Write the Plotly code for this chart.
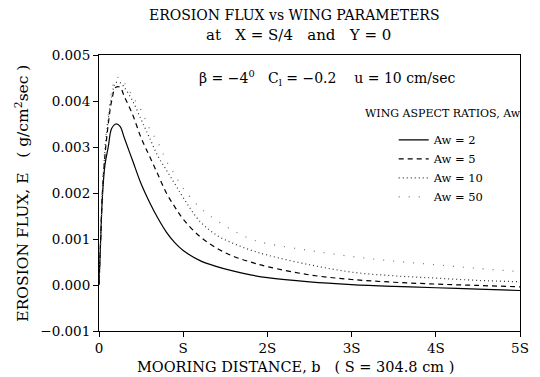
import plotly.graph_objects as go

# Mooring distance in units of S (S = 304.8 cm)
b = [0, 0.02, 0.04, 0.07, 0.11, 0.15, 0.2, 0.25, 0.3, 0.4, 0.5, 0.6, 0.7, 0.8, 0.9, 1.0,
     1.2, 1.4, 1.6, 1.8, 2.0, 2.5, 3.0, 3.5, 4.0, 4.5, 5.0]

aw2 = [0, 0.0010, 0.0019, 0.0026, 0.0030, 0.0034, 0.0035, 0.00345, 0.0032, 0.0027, 0.0022,
       0.0018, 0.00145, 0.00115, 0.00092, 0.00075, 0.00053, 0.0004, 0.0003, 0.00022, 0.00016,
       0.00007, 0.00001, -0.00003, -0.00006, -0.00009, -0.00012]
aw5 = [0, 0.0010, 0.0020, 0.0028, 0.0035, 0.0040, 0.0043, 0.0043, 0.0041, 0.0037, 0.0032,
       0.0028, 0.0024, 0.0020, 0.0017, 0.00143, 0.00105, 0.0008, 0.00062, 0.0005, 0.0004,
       0.00022, 0.00012, 0.00006, 0.00002, -0.00001, -0.00004]
aw10 = [0, 0.0010, 0.0020, 0.0029, 0.0036, 0.0041, 0.0044, 0.0044, 0.0043, 0.0040, 0.0036,
        0.0032, 0.0028, 0.0025, 0.0022, 0.0019, 0.00138, 0.00108, 0.0009, 0.00076, 0.00065,
        0.00044, 0.00028, 0.0002, 0.00015, 0.0001, 0.00007]
aw50 = [0, 0.0010, 0.0020, 0.0030, 0.0037, 0.0042, 0.0045, 0.0045, 0.0044, 0.0041, 0.0038,
        0.0034, 0.0031, 0.0027, 0.0024, 0.0021, 0.00168, 0.0014, 0.00118, 0.0010, 0.0009,
        0.00075, 0.00062, 0.00052, 0.00044, 0.00036, 0.00029]

x_tickvals = [0, 1, 2, 3, 4, 5]
x_ticktext = ["0", "S", "2S", "3S", "4S", "5S"]
y_tickvals = [-0.001, 0.0, 0.001, 0.002, 0.003, 0.004, 0.005]

series = [
    ("Aw = 2", aw2, dict(color="black", width=1.2, dash="solid")),
    ("Aw = 5", aw5, dict(color="black", width=1.2, dash="5px,4px")),
    ("Aw = 10", aw10, dict(color="#333333", width=1.2, dash="1px,3px")),
    ("Aw = 50", aw50, dict(color="#777777", width=1.2, dash="1px,9px")),
]

SERIF = "DejaVu Serif"

fig = go.Figure()
for name, ys, ln in series:
    fig.add_trace(go.Scatter(x=b, y=ys, mode="lines", name=name, line=ln,
                             line_shape="spline"))

# page has an 8px body margin; plot area lands at page x 99-529, y 55-323
fig.update_layout(
    width=532, height=369,
    margin=dict(l=91, r=11, t=47, b=46),
    paper_bgcolor="white", plot_bgcolor="white",
    font=dict(family=SERIF, size=13, color="black"),
    showlegend=True,
    legend=dict(x=0.70, y=0.745, xanchor="left", yanchor="top",
                bgcolor="rgba(0,0,0,0)", borderwidth=0,
                font=dict(family=SERIF, size=11.5), tracegroupgap=0,
                itemwidth=30),
)

fig.update_xaxes(range=[0, 5], tickvals=x_tickvals, ticktext=x_ticktext,
                 showgrid=False, zeroline=False, showline=True, linecolor="black",
                 linewidth=1, mirror=True, ticks="outside", ticklen=5,
                 tickcolor="black", tickfont=dict(family=SERIF, size=13.5))
fig.update_yaxes(range=[-0.001, 0.005], tickvals=y_tickvals, tickformat=".3f",
                 showgrid=False, zeroline=False, showline=True, linecolor="black",
                 linewidth=1, mirror=True, ticks="outside", ticklen=5,
                 tickcolor="black", tickfont=dict(family=SERIF, size=13.5))

nb = "\u00a0"
s3 = nb * 3
s4 = nb * 4
# positions in page pixels (top-left origin)
ann = [
    dict(text="EROSION FLUX vs WING PARAMETERS", x=299, y=16, size=14),
    dict(text=f"at{s3}X = S/4{s3}and{s3}Y = 0", x=303, y=36, size=15),
    dict(text=f"MOORING DISTANCE, b{s3}( S = 304.8 cm )", x=300, y=358, size=14.5),
    dict(text=f"β = −4<sup>0</sup>{s3}C<sub>l</sub> = −0.2{s4}u = 10 cm/sec",
         x=332, y=77, size=14),
    dict(text="WING ASPECT RATIOS, Aw", x=450, y=112, size=11),
]
for a in ann:
    fig.add_annotation(text=a["text"], xref="paper", yref="paper",
                       x=(a["x"] - 99) / 430, y=(323 - a["y"]) / 268,
                       showarrow=False, xanchor="center", yanchor="middle",
                       font=dict(family=SERIF, size=a["size"], color="black"))

fig.add_annotation(text=f"EROSION FLUX, E{s3}( g/cm<sup>2</sup>sec )",
                   xref="paper", yref="paper", x=(20 - 99) / 430, y=0.5,
                   textangle=-90, showarrow=False, xanchor="center", yanchor="middle",
                   font=dict(family=SERIF, size=15.5, color="black"))

fig.write_html("out.html")
